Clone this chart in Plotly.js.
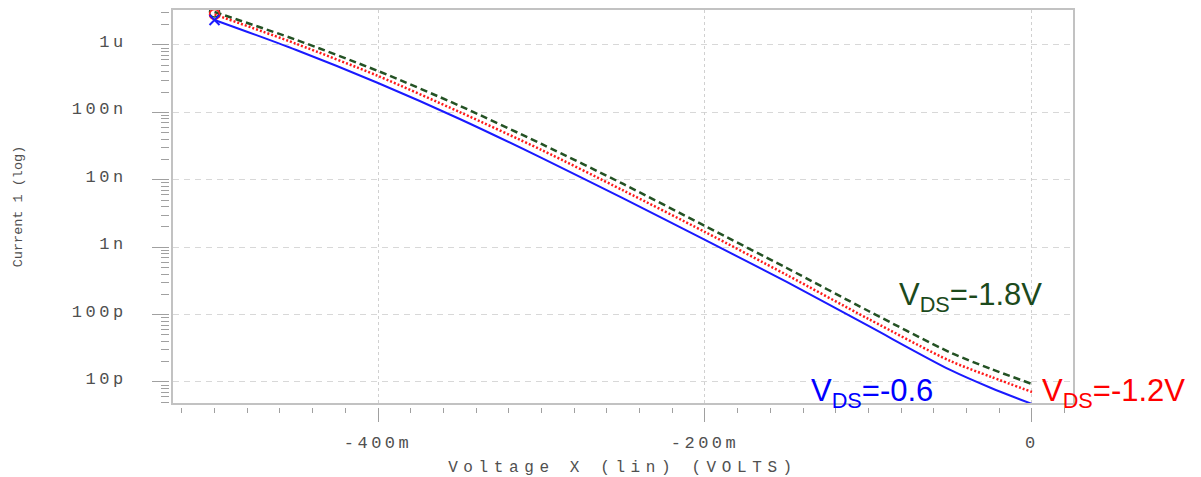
<!DOCTYPE html>
<html>
<head>
<meta charset="utf-8">
<script src="https://cdn.plot.ly/plotly-3.0.1.min.js"></script>
<style>
  html, body { margin: 0; padding: 0; background: #ffffff; }
  #chart { width: 1201px; height: 477px; }
  .x2tick text, .y2tick text { letter-spacing: 3.5px; }
  .g-x2title text { letter-spacing: 5.6px; }
</style>
</head>
<body>
<div id="chart"></div>
<script>
// Gate voltage sweep (V)
const voltage = [-0.5, -0.45, -0.4, -0.35, -0.3, -0.25, -0.2, -0.15, -0.1, -0.05, -0.025, 0];
// Drain current (A) for each VDS
const currentVds18 = [3.09e-6, 1.19e-6, 4.11e-7, 1.25e-7, 3.40e-8, 8.66e-9, 2.06e-9, 4.91e-10, 1.13e-10, 2.74e-11, 1.56e-11, 9.34e-12];
const currentVds12 = [2.84e-6, 1.04e-6, 3.47e-7, 1.01e-7, 2.77e-8, 6.94e-9, 1.68e-9, 3.87e-10, 8.61e-11, 2.05e-11, 1.19e-11, 7.11e-12];
const currentVds06 = [2.35e-6, 8.43e-7, 2.73e-7, 7.98e-8, 2.11e-8, 5.28e-9, 1.28e-9, 3.05e-10, 6.78e-11, 1.51e-11, 8.15e-12, 4.72e-12];

// Axis ticks
const xTickVals = [-0.4, -0.2, 0];
const xTickText = ['-400m', '-200m', '0'];
const yTickVals = [1e-11, 1e-10, 1e-9, 1e-8, 1e-7, 1e-6];
const yTickText = ['10p', '100p', '1n', '10n', '100n', '1u'];

// Curve labels
const labelVds18 = 'V<sub>DS</sub>=-1.8V';
const labelVds12 = 'V<sub>DS</sub>=-1.2V';
const labelVds06 = 'V<sub>DS</sub>=-0.6';

const xRange = [-0.5254, 0.0251];
const yRange = [-11.312, -5.481];

const monoFont = 'Liberation Mono, Courier New, monospace';
const textGray = '#505050';
const frameGray = '#c2c2c2';
const tickGray = '#a0a0a0';

const traces = [
  { x: voltage, y: currentVds18, mode: 'lines', line: { color: '#245224', width: 2.5, dash: '7px,4px', shape: 'spline', smoothing: 0.8 }, showlegend: false },
  { x: voltage, y: currentVds12, mode: 'lines', line: { color: '#ff1a1a', width: 2.5, dash: '2px,2px', shape: 'spline', smoothing: 0.8 }, showlegend: false },
  { x: voltage, y: currentVds06, mode: 'lines', line: { color: '#1a1aff', width: 2, shape: 'spline', smoothing: 0.8 }, showlegend: false },
  { x: [voltage[0]], y: [currentVds18[0]], xaxis: 'x2', yaxis: 'y2', mode: 'markers', marker: { symbol: 'circle-open', size: 10, color: '#245224', line: { width: 1.5 } }, showlegend: false },
  { x: [voltage[0]], y: [currentVds12[0]], xaxis: 'x2', yaxis: 'y2', mode: 'markers', marker: { symbol: 'circle-open', size: 10, color: '#ff1a1a', line: { width: 1.5 } }, showlegend: false },
  { x: [voltage[0]], y: [currentVds06[0]], xaxis: 'x2', yaxis: 'y2', mode: 'markers', marker: { symbol: 'x-thin-open', size: 10, color: '#1a1aff', line: { width: 2, color: '#1a1aff' } }, showlegend: false }
];

const layout = {
  width: 1201,
  height: 477,
  margin: { l: 169, r: 128, t: 10, b: 70 },
  paper_bgcolor: '#ffffff',
  plot_bgcolor: '#ffffff',
  showlegend: false,
  xaxis: {
    domain: [4 / 904, 1],
    anchor: 'y',
    range: xRange,
    showline: true, mirror: true, linecolor: frameGray, linewidth: 2,
    showgrid: false,
    tickmode: 'array', tickvals: xTickVals, ticks: '', showticklabels: false,
    zeroline: false
  },
  yaxis: {
    domain: [4 / 397, 1],
    anchor: 'x',
    type: 'log',
    range: yRange,
    showline: true, mirror: true, linecolor: frameGray, linewidth: 2,
    showgrid: true, gridcolor: '#d8d8d8', griddash: '6px,5px', gridwidth: 1,
    tickmode: 'array', tickvals: yTickVals, ticks: '', showticklabels: false,
    zeroline: false
  },
  xaxis2: {
    overlaying: 'x',
    anchor: 'free',
    position: 0,
    range: xRange,
    showline: false, zeroline: false,
    showgrid: true, gridcolor: '#d0d0d0', griddash: 'dot', gridwidth: 1,
    tickmode: 'array', tickvals: xTickVals, ticktext: xTickText,
    ticks: 'outside', ticklen: 14, tickwidth: 1, tickcolor: tickGray,
    minor: { tickmode: 'linear', tick0: 0, dtick: 0.02, ticks: 'outside', ticklen: 5, tickwidth: 1, tickcolor: tickGray, showgrid: false },
    tickfont: { family: monoFont, size: 17, color: textGray },
    ticklabelstandoff: 6,
    title: { text: 'Voltage X (lin) (VOLTS)', font: { family: monoFont, size: 16, color: textGray }, standoff: 12 }
  },
  yaxis2: {
    overlaying: 'y',
    anchor: 'free',
    position: 0,
    side: 'left',
    type: 'log',
    range: yRange,
    showline: false, showgrid: false, zeroline: false,
    tickmode: 'array', tickvals: yTickVals, ticktext: yTickText,
    ticks: 'outside', ticklen: 17, tickwidth: 1, tickcolor: tickGray,
    minor: { tickmode: 'linear', dtick: 'D1', ticks: 'outside', ticklen: 8, tickwidth: 1, tickcolor: tickGray, showgrid: false },
    tickfont: { family: monoFont, size: 17, color: textGray },
    ticklabelstandoff: 22,
    ticklabelshift: -4,
    title: { text: 'Current 1 (log)', font: { family: monoFont, size: 13.5, color: textGray }, standoff: 45 }
  },
  annotations: [
    { x: -0.0825, y: -9.739, xref: 'x', yref: 'y', text: labelVds18, showarrow: false, xanchor: 'left', yanchor: 'middle',
      font: { family: 'Liberation Sans, Arial, sans-serif', size: 31, color: '#1c4a1c' } },
    { x: 0.0050, y: -11.163, xref: 'x', yref: 'y', text: labelVds12, showarrow: false, xanchor: 'left', yanchor: 'middle',
      font: { family: 'Liberation Sans, Arial, sans-serif', size: 31, color: '#ff0000' } },
    { x: -0.1365, y: -11.163, xref: 'x', yref: 'y', text: labelVds06, showarrow: false, xanchor: 'left', yanchor: 'middle',
      font: { family: 'Liberation Sans, Arial, sans-serif', size: 31, color: '#0000ff' } }
  ]
};

Plotly.newPlot('chart', traces, layout, { staticPlot: true, displayModeBar: false });
</script>
</body>
</html>
